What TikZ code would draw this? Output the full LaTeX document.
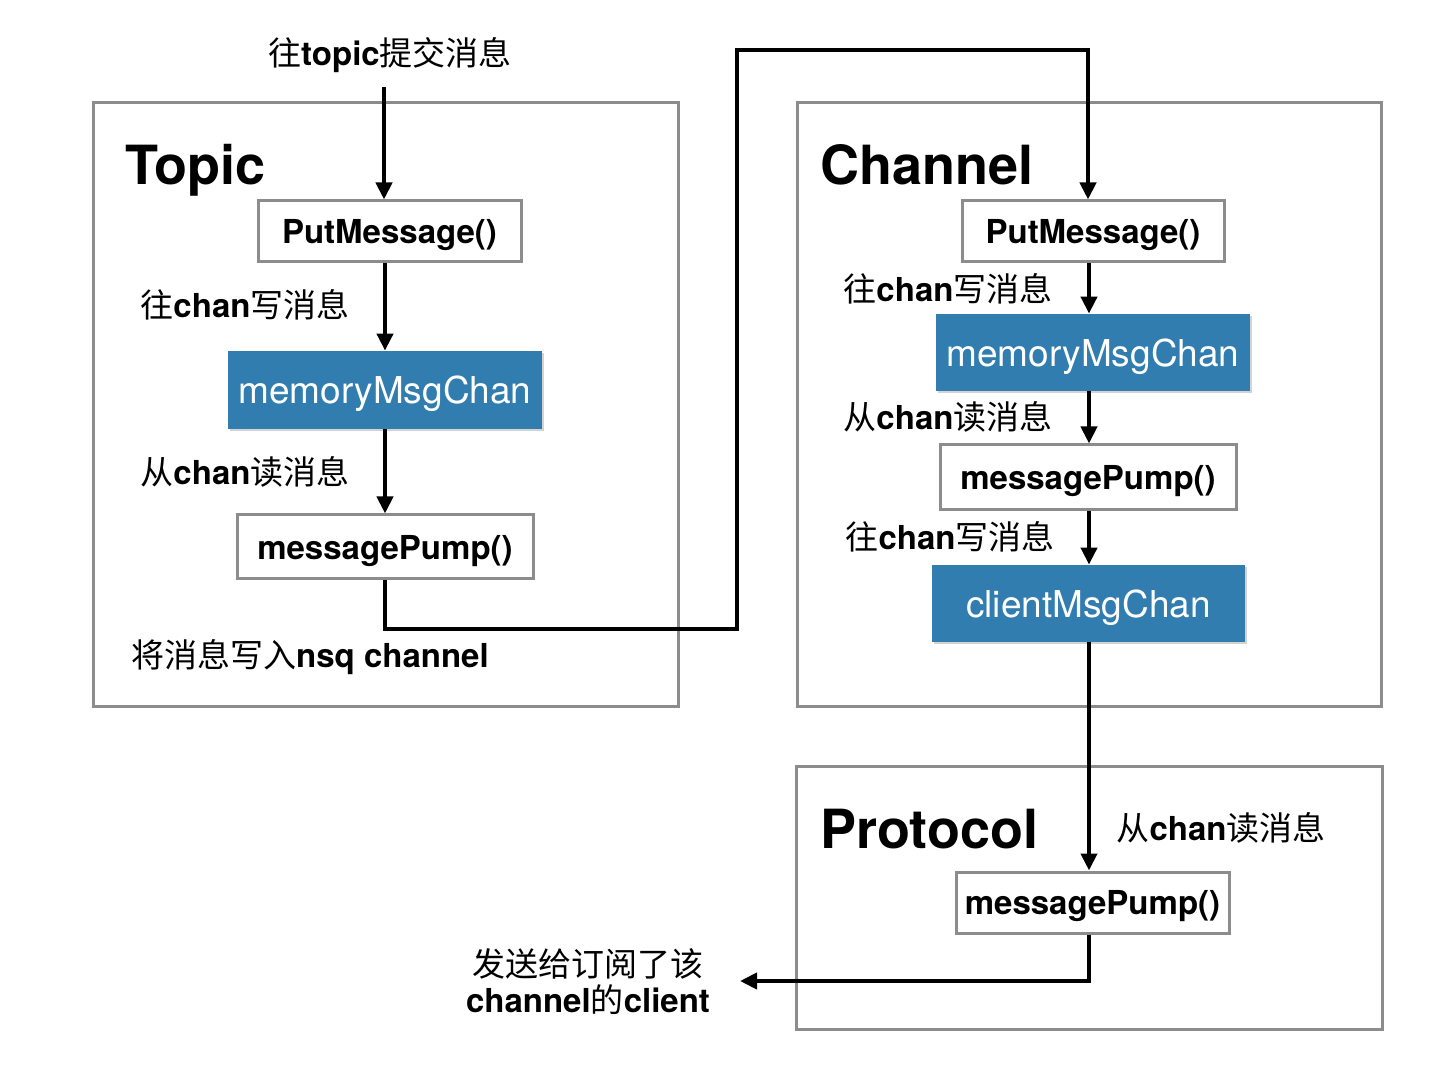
\documentclass[tikz,border=0pt]{standalone}
\usepackage{fontspec}
\setmainfont{TeX Gyre Heros}
\newfontfamily\cjk{Noto Sans CJK SC}
\usetikzlibrary{arrows.meta,shadows}
\definecolor{chanblue}{RGB}{49,125,175}
\definecolor{boxgray}{RGB}{140,140,140}
\newcommand\myzh[1]{{\cjk #1}}
\newcommand\fsl{\fontsize{16.5}{20}\selectfont}
\newcommand\fsc{\fontsize{18.5}{22}\selectfont}
\newcommand\fst{\fontsize{27}{32}\selectfont}
\begin{document}
\begin{tikzpicture}[x=0.5pt,y=-0.5pt,
  frame/.style={draw=boxgray, line width=1.5pt},
  fnbox/.style={draw=boxgray, line width=1.5pt, fill=white, inner sep=0pt, text depth=0pt, font=\fsl\bfseries},
  chanbox/.style={fill=chanblue, text=white, inner sep=0pt, text depth=0pt, font=\fsc,
     drop shadow={shadow xshift=0.8pt, shadow yshift=-0.8pt, opacity=0.35}},
  lbl/.style={inner sep=0pt, font=\fsl},
  ttl/.style={anchor=base west, inner sep=0pt, font=\fst\bfseries},
  flow/.style={line width=2pt, -{Triangle[length=8.5pt,width=8pt]}}]
\useasboundingbox (0,0) rectangle (1440,1074);

% frames
\draw[frame] (93,103) rectangle (678,706);
\draw[frame] (797,103) rectangle (1381,706);
\draw[frame] (796,766) rectangle (1382,1029);

% titles
\node[ttl] (ttopic) at (125,185) {Topic};
\node[ttl] (tchan) at (820,185) {Channel};
\node[ttl] (tproto) at (820,848) {Protocol};

% Topic column
\node[fnbox, minimum width=131.5pt, minimum height=30.5pt] (tput) at (389.5,231.5) {PutMessage()};
\node[chanbox, minimum width=157pt, minimum height=39pt] (tmem) at (385,390) {memoryMsgChan};
\node[fnbox, minimum width=148pt, minimum height=32pt] (tpump) at (385,547) {messagePump()};

\node[lbl] (lin) at (390,55) {\myzh{往}\textbf{topic}\myzh{提交消息}};
\node[lbl] (lt1) at (245,305) {\myzh{往}\textbf{chan}\myzh{写消息}};
\node[lbl] (lt2) at (245,472) {\myzh{从}\textbf{chan}\myzh{读消息}};
\node[lbl] (lt3) at (310,657) {\myzh{将消息写入}\textbf{nsq channel}};

\coordinate (cin) at (384,87);
\draw[flow] (cin) -- (cin |- tput.north);
\draw[flow] (tmem.north |- tput.south) -- (tmem.north);
\draw[flow] (tmem.south) -- (tpump.north);

% Channel column
\coordinate (cx) at (1089,0);
\node[fnbox, minimum width=131pt, minimum height=30.5pt] (cput) at (1093,231.5) {PutMessage()};
\node[chanbox, minimum width=157pt, minimum height=38.5pt] (cmem) at (1093,352.5) {memoryMsgChan};
\node[fnbox, minimum width=148pt, minimum height=32.5pt] (cpump) at (1088,477.5) {messagePump()};
\node[chanbox, minimum width=156.5pt, minimum height=38.5pt] (cclient) at (1088.5,603.5) {clientMsgChan};

\node[lbl] (lc1) at (948,289) {\myzh{往}\textbf{chan}\myzh{写消息}};
\node[lbl] (lc2) at (948,417) {\myzh{从}\textbf{chan}\myzh{读消息}};
\node[lbl] (lc3) at (950,537) {\myzh{往}\textbf{chan}\myzh{写消息}};

\draw[flow] (cput.south -| cx) -- (cmem.north -| cx);
\draw[flow] (cmem.south -| cx) -- (cpump.north -| cx);
\draw[flow] (cpump.south -| cx) -- (cclient.north -| cx);

% Topic -> Channel connector
\coordinate (k1) at (737,629);
\coordinate (k2) at (737,50);
\coordinate (k3) at (1088,50);
\draw[flow] (tpump.south) |- (k1) -- (k2) -- (k3) -- (k3 |- cput.north);

% Protocol
\node[fnbox, minimum width=136.5pt, minimum height=30.5pt] (ppump) at (1092.5,902.5) {messagePump()};
\node[lbl] (lp1) at (1221,828) {\myzh{从}\textbf{chan}\myzh{读消息}};
\draw[flow] (cclient.south -| cx) -- (ppump.north -| cx);

\coordinate (cout) at (740,981);
\node[lbl, align=center] (lout) at (588,982) {\myzh{发送给订阅了该}\\[-2pt]\textbf{channel}\myzh{的}\textbf{client}};
\draw[flow] (ppump.south -| cx) |- (cout);
\end{tikzpicture}
\end{document}
